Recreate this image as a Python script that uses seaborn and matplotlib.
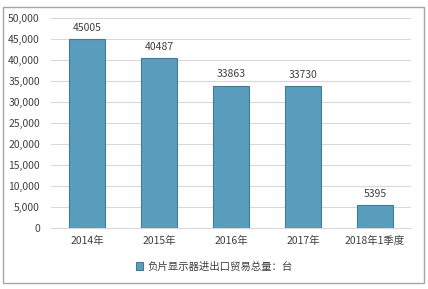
import matplotlib
matplotlib.use("Agg")
import matplotlib.pyplot as plt
import seaborn as sns
import pandas as pd
from matplotlib.patches import Rectangle

categories = ["2014年", "2015年", "2016年", "2017年", "2018年1季度"]
values = [45005, 40487, 33863, 33730, 5395]
yticks = [0, 5000, 10000, 15000, 20000, 25000, 30000, 35000, 40000, 45000, 50000]
series_name = "负片显示器进出口贸易总量：台"

sns.set_theme(style="white")
plt.rcParams['font.family'] = ['Noto Sans CJK SC', 'DejaVu Sans']

df = pd.DataFrame({"year": categories, "value": values, "series": series_name})

fig = plt.figure(figsize=(4.28, 2.89), dpi=100)
ax = fig.add_axes([0.119, 0.211, 0.841, 0.727])

sns.barplot(data=df, x="year", y="value", hue="series", ax=ax,
            palette=["#5A9DBD"], width=0.51, edgecolor="#3E7C98", linewidth=0.8,
            saturation=1, zorder=3)

ax.set_ylim(0, 50000)
ax.set_yticks(yticks)
ax.set_yticklabels([f"{v:,}" for v in yticks], fontsize=7.5, color="#404040")
ax.tick_params(axis='x', labelsize=7.5, colors="#404040", length=0, pad=6)
ax.tick_params(axis='y', length=0, pad=8)
ax.set_xlabel("")
ax.set_ylabel("")
ax.yaxis.grid(True, color="#D9D9D9", linewidth=0.8, zorder=0)
for s in ["top", "right", "left"]:
    ax.spines[s].set_visible(False)
ax.spines["bottom"].set_color("#D9D9D9")
ax.spines["bottom"].set_linewidth(0.8)

for i, v in enumerate(values):
    ax.text(i, v + 1500, str(v), ha="center", va="bottom", fontsize=7.5, color="#404040")

handles, labels = ax.get_legend_handles_labels()
ax.get_legend().remove()
leg = fig.legend(handles, labels, loc="center", bbox_to_anchor=(0.5, 0.078),
                 bbox_transform=fig.transFigure, frameon=False,
                 fontsize=7.5, handlelength=0.7, handleheight=0.7, handletextpad=0.4)
for t in leg.get_texts():
    t.set_color("#404040")

fig.patches.append(Rectangle((0.008, 0.02), 0.982, 0.955, transform=fig.transFigure,
                             fill=False, edgecolor="#A6A6A6", linewidth=1.0))

fig.savefig("out.png", dpi=100)
